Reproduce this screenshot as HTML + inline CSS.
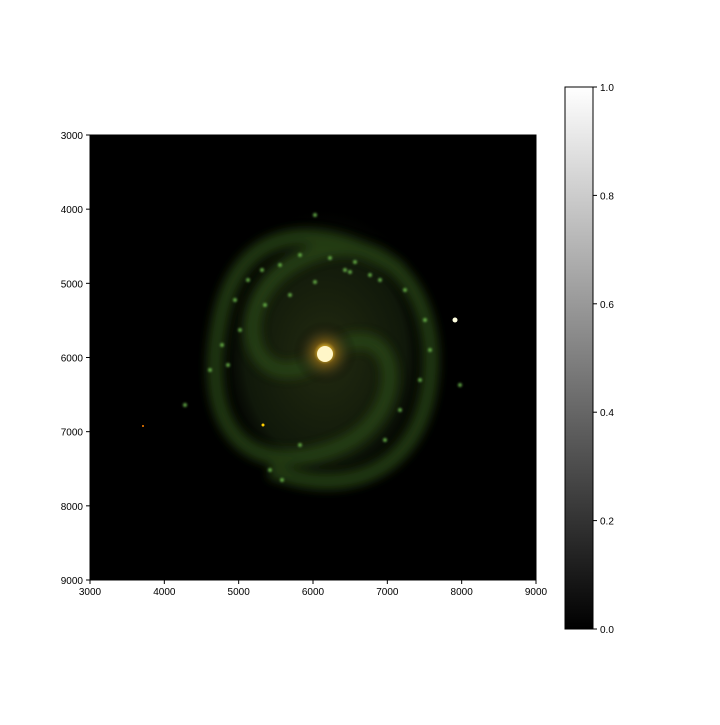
<!DOCTYPE html>
<html><head><meta charset="utf-8"><style>
body{margin:0;background:#fff;width:720px;height:720px;overflow:hidden;font-family:"Liberation Sans",sans-serif;}
svg text{font-family:"Liberation Sans",sans-serif;font-size:10px;fill:#000;}
</style></head><body>
<svg id="fig" width="720" height="720">
<defs>
<radialGradient id="core" cx="50%" cy="50%" r="50%">
<stop offset="0" stop-color="#fffbe0"/><stop offset="0.15" stop-color="#ffcc30"/><stop offset="0.35" stop-color="#7a5a14" stop-opacity="0.8"/><stop offset="0.65" stop-color="#3a3214" stop-opacity="0.5"/><stop offset="1" stop-color="#000" stop-opacity="0"/>
</radialGradient>
<radialGradient id="disk" cx="50%" cy="50%" r="50%">
<stop offset="0" stop-color="#222a10"/><stop offset="0.7" stop-color="#10180a"/><stop offset="1" stop-color="#000" stop-opacity="0"/>
</radialGradient>
<linearGradient id="cbar" x1="0" y1="1" x2="0" y2="0"><stop offset="0" stop-color="#000"/><stop offset="1" stop-color="#fff"/></linearGradient>
<filter id="blur"><feGaussianBlur stdDeviation="5"/></filter>
<filter id="sblur"><feGaussianBlur stdDeviation="1"/></filter>
</defs>
<rect x="90" y="135" width="446" height="445" fill="#000"/>
<g>
<ellipse cx="325" cy="355" rx="115" ry="150" fill="url(#disk)"/>
<g filter="url(#blur)" fill="none" stroke="#2c4a18" stroke-width="16" opacity="0.75">
<path d="M325 355 C 400 300, 420 420, 330 450 S 200 420, 220 320 S 320 220, 400 270"/>
<path d="M325 355 C 250 410, 220 300, 300 260 S 440 290, 430 380 S 350 500, 270 470"/>
</g>
<g id="knots" filter="url(#sblur)"></g>
<circle cx="325" cy="353" r="32" fill="url(#core)"/>
<circle cx="325" cy="354" r="8" fill="#fff6c8"/>
<circle cx="455" cy="320" r="2.5" fill="#ffffe0"/>
<circle cx="263" cy="425" r="1.5" fill="#ffd000"/>
<circle cx="143" cy="426" r="1" fill="#ff8000"/>
</g>
<rect x="90" y="135" width="446" height="445" fill="none" stroke="#000" stroke-width="1"/>
<g id="xt"></g>
<g id="yt"></g>
<rect x="565" y="87" width="28" height="542" fill="url(#cbar)" stroke="#000" stroke-width="1"/>
<g id="ct"></g>
</svg>
<script>
const xTicks=[3000,4000,5000,6000,7000,8000,9000];
const yTicks=[3000,4000,5000,6000,7000,8000,9000];
const cTicks=[0.0,0.2,0.4,0.6,0.8,1.0];
const knotX=[350,370,345,315,290,265,240,228,222,235,248,262,280,300,330,355,380,405,425,430,420,400,385,270,282,300,460,210,185,315];
const knotY=[272,275,270,282,295,305,330,365,345,300,280,270,265,255,258,262,280,290,320,350,380,410,440,470,480,445,385,370,405,215];
const NS="http://www.w3.org/2000/svg";
function xs(v){return 90+(v-3000)/6000*446;}
function ys(v){return 135+(v-3000)/6000*445;}
function cs(v){return 629-v*542;}
function mk(t,a,p){const e=document.createElementNS(NS,t);for(const k in a)e.setAttribute(k,a[k]);p.appendChild(e);return e;}
const kg=document.getElementById('knots');
knotX.forEach((x,i)=>{const c=mk('circle',{cx:x,cy:knotY[i],r:2,fill:'#6fc050',opacity:0.8},kg);

});
const xg=document.getElementById('xt'),yg=document.getElementById('yt'),cg=document.getElementById('ct');
xTicks.forEach(v=>{const x=xs(v);mk('line',{x1:x,x2:x,y1:580,y2:584,stroke:'#000'},xg);
const t=mk('text',{x:x,y:595,'text-anchor':'middle'},xg);t.textContent=v;

});
yTicks.forEach(v=>{const y=ys(v);mk('line',{x1:86,x2:90,y1:y,y2:y,stroke:'#000'},yg);
const t=mk('text',{x:83,y:y+4,'text-anchor':'end'},yg);t.textContent=v;

});
cTicks.forEach(v=>{const y=cs(v);mk('line',{x1:593,x2:597,y1:y,y2:y,stroke:'#000'},cg);
const t=mk('text',{x:600,y:y+4},cg);t.textContent=v.toFixed(1);

});
</script>
</body></html>
